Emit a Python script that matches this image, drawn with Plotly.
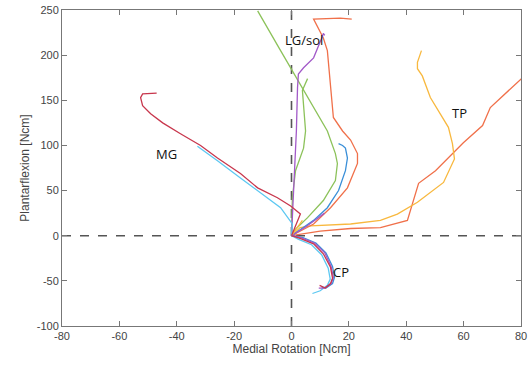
import plotly.graph_objects as go

# ---- data ----
mg_red_x = [0, 3.1, -0.3, -4.9, -11.8, -17.8, -25.8, -31.7, -38.7, -44.9, -49.1, -51.9, -52.6, -51.9, -47]
mg_red_y = [0, 24, 33, 42, 53, 69, 86, 100, 113, 125, 135, 144, 153, 157, 158]
mg_cyan_x = [0, 0.3, -3.8, -10.8, -17.8, -25.8, -32.8]
mg_cyan_y = [0, 13, 31, 47, 64, 83, 99]

lg_orange_x = [0, 7.7, 13.6, 19.5, 23, 23, 20.6, 17.8, 14.6, 13.6, 12.5, 11.1, 7.7, 17, 21]
lg_orange_y = [0, 13, 31, 53, 80, 91, 106, 116, 131, 168, 205, 219, 240, 241, 240]
lg_purple_x = [0, 1.0, 1.7, 2.1, 2.4, 4.2, 7.7, 10.8, 11.1, 11.6]
lg_purple_y = [0, 60, 116, 164, 179, 186, 197, 221, 224, 222]
lg_green1_x = [0, 0.7, 5.6, 11.1, 15.3, 16, 15.3, 12.5, -3.8, -11.8]
lg_green1_y = [0, 5, 20, 39, 61, 80, 91, 116, 205, 249]
lg_green2_x = [0, 0.3, 1.4, 4.2, 4.9, 3.8, 5.6]
lg_green2_y = [0, 42, 72, 97, 116, 161, 174]
lg_blue_x = [0, 7.7, 12.5, 16.4, 18.8, 19.5, 18.8, 17.8, 16.4]
lg_blue_y = [0, 17, 31, 50, 72, 86, 97, 100, 102]
sm_purple_x = [0, 5, 9, 11.5]
sm_purple_y = [0, 10, 19, 25]
sm_yellow_x = [0, 2, 3.8]
sm_yellow_y = [0, 9, 17]

tp_yellow_x = [0, 3, 6.6, 20.6, 31, 36.9, 43.9, 53, 56.8, 56.1, 54.7, 51.9, 48.4, 45.6, 43.9, 43.9, 45.3]
tp_yellow_y = [0, 9, 11, 13, 17, 24, 37, 59, 85, 102, 120, 135, 153, 177, 185, 192, 205]
tp_orange_x = [0, 10, 20.6, 31, 40.4, 42.5, 44.3, 50.2, 56.1, 59.9, 66.6, 69.3, 80.5, 84]
tp_orange_y = [0, 5, 8, 9, 17, 39, 58, 72, 91, 103, 122, 142, 175, 185]

cp_red_x = [0, 3, 7.7, 11.1, 13.6, 14.3, 13.6, 11.8, 9.8]
cp_red_y = [0, -3, -9, -20, -35, -47, -53, -58, -55]
cp_blue_x = [0, 4, 8.5, 12, 14.3, 15, 14.3, 12, 10.5]
cp_blue_y = [0, -2, -8, -19, -34, -46, -53, -58, -57]
cp_purple_x = [0, 3.5, 8, 11.6, 13.8, 14.6, 13.8, 11.5, 9.5]
cp_purple_y = [0, -2.5, -8, -19, -34, -46, -53, -58, -58]
cp_cyan_x = [0, 2.5, 7, 10.5, 12.8, 13.5, 12.5, 10, 7.3]
cp_cyan_y = [0, -4, -10, -21, -36, -48, -55, -61, -64]

labels = ["LG/sol", "MG", "TP", "CP"]
label_x = [4.5, -43.5, 58.5, 17.4]
label_y = [217, 91, 136, -40]

x_ticks = [-80, -60, -40, -20, 0, 20, 40, 60, 80]
y_ticks = [-100, -50, 0, 50, 100, 150, 200, 250]

RED = "#c8374d"
CYAN = "#5cc8f2"
BLUE = "#3a8fd8"
PURPLE = "#a259c8"
GREEN = "#8cc25a"
ORANGE = "#f0704a"
YELLOW = "#f8b83e"

series = [
    (tp_orange_x, tp_orange_y, ORANGE),
    (tp_yellow_x, tp_yellow_y, YELLOW),
    (lg_green1_x, lg_green1_y, GREEN),
    (lg_green2_x, lg_green2_y, GREEN),
    (lg_orange_x, lg_orange_y, ORANGE),
    (lg_purple_x, lg_purple_y, PURPLE),
    (lg_blue_x, lg_blue_y, BLUE),
    (sm_purple_x, sm_purple_y, PURPLE),
    (sm_yellow_x, sm_yellow_y, YELLOW),
    (mg_cyan_x, mg_cyan_y, CYAN),
    (mg_red_x, mg_red_y, RED),
    (cp_cyan_x, cp_cyan_y, CYAN),
    (cp_blue_x, cp_blue_y, BLUE),
    (cp_purple_x, cp_purple_y, PURPLE),
    (cp_red_x, cp_red_y, RED),
]

fig = go.Figure()
fig.add_shape(type="line", x0=0, x1=0, y0=-100, y1=250, xref="x", yref="y",
              line=dict(color="#555555", width=1.6, dash="dash"), layer="below")
fig.add_shape(type="line", x0=-80, x1=80, y0=0, y1=0, xref="x", yref="y",
              line=dict(color="#555555", width=1.6, dash="dash"), layer="below")

for xs, ys, c in series:
    fig.add_trace(go.Scatter(x=xs, y=ys, mode="lines",
                             line=dict(color=c, width=1.3), showlegend=False,
                             hoverinfo="skip", cliponaxis=True))

for t, x, y in zip(labels, label_x, label_y):
    fig.add_annotation(x=x, y=y, text=t, showarrow=False,
                       font=dict(family="Open Sans, Arial", size=13, color="#111111"))

axis_common = dict(showgrid=False, zeroline=False, showline=True, mirror="ticks",
                   linecolor="#777777", linewidth=1, ticks="inside", ticklen=5,
                   tickcolor="#777777", automargin=False,
                   tickfont=dict(family="Liberation Sans, Arial", size=11, color="#444444"))

fig.update_xaxes(range=[-80, 80], tickvals=x_ticks, ticktext=[str(v) for v in x_ticks],
                 title=dict(text="Medial Rotation [Ncm]", standoff=2,
                            font=dict(family="Liberation Sans, Arial", size=12, color="#444444")),
                 **axis_common)
fig.update_yaxes(range=[-100, 250], tickvals=y_ticks, ticktext=[str(v) for v in y_ticks],
                 title=dict(text="Plantarflexion [Ncm]", standoff=4,
                            font=dict(family="Liberation Sans, Arial", size=12, color="#444444")),
                 **axis_common)

fig.update_layout(width=530, height=365, margin=dict(l=62, r=9, t=10, b=39),
                  plot_bgcolor="white", paper_bgcolor="white")

fig.write_html("out.html")
